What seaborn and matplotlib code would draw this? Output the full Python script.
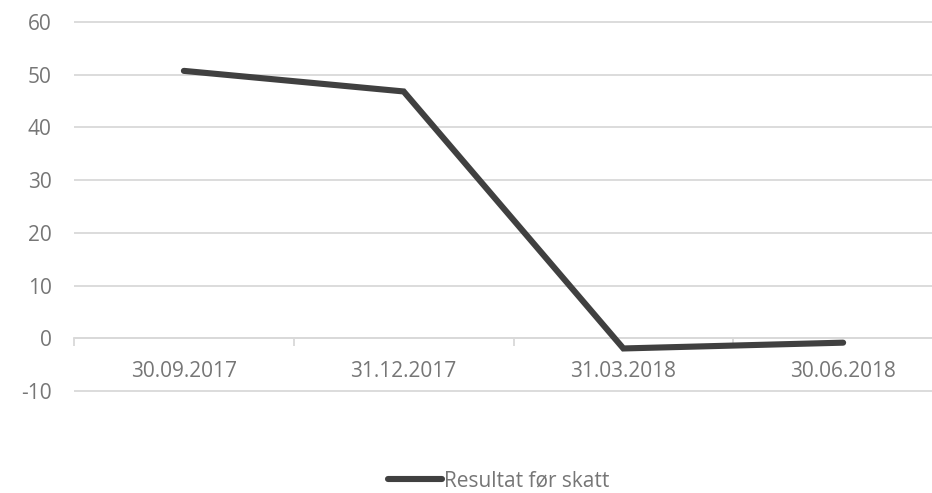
import pandas as pd
import seaborn as sns
import matplotlib.pyplot as plt
from matplotlib.ticker import FixedLocator

# Data
dates = ["30.09.2017", "31.12.2017", "31.03.2018", "30.06.2018"]
resultat = [50.7, 46.8, -1.9, -0.8]
series_name = "Resultat før skatt"
y_ticks = [-10, 0, 10, 20, 30, 40, 50, 60]

df = pd.DataFrame({"Dato": dates, "Verdi": resultat})

sns.set_theme(style="white")
plt.rcParams["font.family"] = ["Open Sans", "DejaVu Sans"]
plt.rcParams["axes.unicode_minus"] = False

text_color = "#767676"
grid_color = "#d9d9d9"

fig = plt.figure(figsize=(9.32, 4.93), dpi=100)
# plot area runs past the right edge, as in the cropped reference
ax = fig.add_axes([74 / 932, 101 / 493, 879 / 932, 371 / 493])

sns.lineplot(data=df, x="Dato", y="Verdi", ax=ax, color="#404040",
             linewidth=4.4, label=series_name, sort=False)
for line in ax.get_lines():
    line.set_solid_capstyle("round")
    line.set_solid_joinstyle("miter")

ax.set_xlim(-0.5, len(dates) - 0.5)
ax.set_ylim(-10.15, 60.15)
ax.set_yticks(y_ticks)
ax.set_xlabel("")
ax.set_ylabel("")

ax.yaxis.grid(True, color=grid_color, linewidth=1.3)
ax.set_axisbelow(True)

for side in ["left", "right", "top"]:
    ax.spines[side].set_visible(False)
ax.spines["bottom"].set_position(("data", 0))
ax.spines["bottom"].set_color(grid_color)
ax.spines["bottom"].set_linewidth(1.3)
ax.spines["bottom"].set_zorder(0.5)

ax.xaxis.set_minor_locator(FixedLocator([i - 0.5 for i in range(len(dates) + 1)]))
ax.tick_params(axis="x", which="minor", bottom=True, length=5.5, width=1.3,
               color=grid_color, direction="out")
ax.tick_params(axis="x", which="major", length=0, pad=16, labelsize=15,
               labelcolor=text_color)
ax.tick_params(axis="y", length=0, pad=16, labelsize=15, labelcolor=text_color)

ax.get_legend().remove()
handles, labels = ax.get_legend_handles_labels()
leg = fig.legend(handles, labels, loc="center", bbox_to_anchor=(0.535, 0.025),
                 frameon=False, fontsize=15, handlelength=2.6, handletextpad=0.1,
                 labelcolor=text_color)

fig.savefig("out.png", dpi=100)
